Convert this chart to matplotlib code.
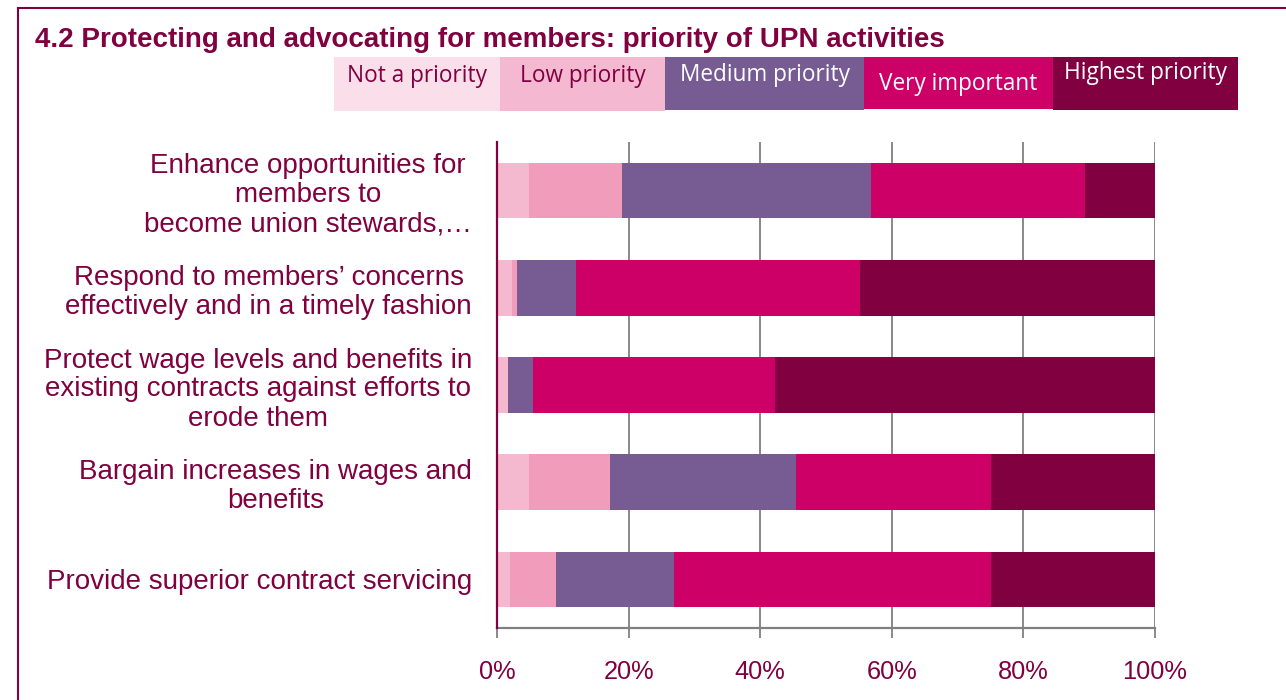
import matplotlib.pyplot as plt
import numpy as np
from matplotlib.patches import Rectangle
from matplotlib.lines import Line2D
from matplotlib.ticker import FuncFormatter

MAROON = '#800040'

activities = [
    "Enhance opportunities for\nmembers to\nbecome union stewards,\u2026",
    "Respond to members\u2019 concerns\neffectively and in a timely fashion",
    "Protect wage levels and benefits in\nexisting contracts against efforts to\nerode them",
    "Bargain increases in wages and\nbenefits",
    "Provide superior contract servicing",
]
levels = ["Not a priority", "Low priority", "Medium priority",
          "Very important", "Highest priority"]

# percent of respondents per level, one row per activity
not_priority = [4.8, 2.3, 1.6, 4.9, 2.0]
low_priority = [14.2, 0.8, 0.0, 12.3, 7.0]
medium_priority = [37.9, 8.9, 3.8, 28.2, 17.9]
very_important = [32.5, 43.2, 36.8, 29.6, 48.1]
highest_priority = [10.6, 44.8, 57.8, 25.0, 25.0]

bar_colors = ['#F5B9CF', '#F29CBB', '#775C93', '#CC0066', '#800040']
key_colors = ['#FADFEA', '#F4B8D0', '#775C93', '#CC0066', '#800040']
key_text = [MAROON, MAROON, 'white', 'white', 'white']

plt.rcParams['font.family'] = ['Liberation Sans', 'DejaVu Sans']

fig = plt.figure(figsize=(12.86, 7.0), dpi=100)
ax = fig.add_axes([497/1286, 1 - 628/700, (1155-497)/1286, (628-142)/700])

series = [not_priority, low_priority, medium_priority, very_important, highest_priority]
y = np.arange(len(activities))
left = np.zeros(len(activities))
for vals, col in zip(series, bar_colors):
    ax.barh(y, vals, left=left, height=0.57, color=col, zorder=3)
    left += np.array(vals)

ax.set_xlim(0, 100)
ax.set_ylim(len(activities) - 0.5, -0.5)
ax.set_xticks([0, 20, 40, 60, 80, 100])
ax.xaxis.set_major_formatter(FuncFormatter(lambda v, p: f"{v:.0f}%"))
ax.set_yticks(y)
ax.set_yticklabels(activities)
for t in ax.get_yticklabels():
    t.set_multialignment('center')
    t.set_linespacing(1.15)

ax.grid(axis='x', color='#808080', lw=1.3, zorder=0)
ax.tick_params(axis='y', length=0, pad=18, labelsize=20, labelcolor=MAROON)
ax.tick_params(axis='x', length=7, width=1.3, color='#808080', pad=16,
               labelsize=18.3, labelcolor=MAROON)
for s in ('top', 'right'):
    ax.spines[s].set_visible(False)
ax.spines['bottom'].set_color('#808080')
ax.spines['bottom'].set_linewidth(1.6)
ax.spines['left'].set_color(MAROON)
ax.spines['left'].set_linewidth(1.6)
ax.spines['left'].set_zorder(4)

# title and frame
fig.text(35/1286, 1 - 40/700, "4.2 Protecting and advocating for members: priority of UPN activities",
         fontsize=20, fontweight='bold', color=MAROON, ha='left', va='center')
fig.add_artist(Line2D([18/1286, 1], [1 - 8/700, 1 - 8/700], color=MAROON, lw=1.5))
fig.add_artist(Line2D([18/1286, 18/1286], [0, 1 - 8/700], color=MAROON, lw=1.5))

# key boxes along the top
key_x = [334, 500, 665, 864, 1053, 1238]
key_bottom = [111, 111, 110, 109, 110]
key_text_y = [76, 76, 75, 84, 73]
for i, lab in enumerate(levels):
    x0, x1 = key_x[i], key_x[i + 1]
    fig.add_artist(Rectangle((x0/1286, 1 - key_bottom[i]/700), (x1 - x0)/1286,
                             (key_bottom[i] - 57)/700, transform=fig.transFigure,
                             facecolor=key_colors[i], edgecolor='none'))
    fig.text((x0 + x1)/2/1286, 1 - key_text_y[i]/700, lab, family=['Open Sans', 'DejaVu Sans'],
             fontsize=16.3, color=key_text[i], ha='center', va='center')

fig.savefig('out.png', dpi=100)
